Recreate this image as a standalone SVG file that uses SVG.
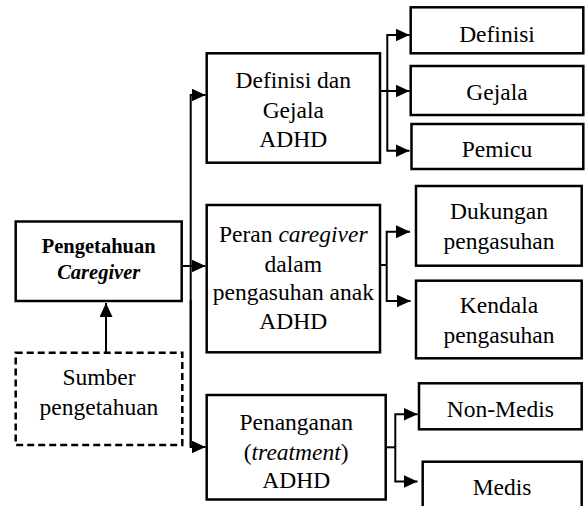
<svg xmlns="http://www.w3.org/2000/svg" width="586" height="506" viewBox="0 0 586 506">
<defs>
<style>
.box{fill:#fff;stroke:#000;stroke-width:2.5}
.dash{fill:#fff;stroke:#000;stroke-width:2.5;stroke-dasharray:7,4}
.t{font-family:'Liberation Serif','Times New Roman',serif;font-size:23.5px;fill:#000;text-anchor:middle}
.b{font-family:'Liberation Serif','Times New Roman',serif;font-size:20.5px;font-weight:bold;fill:#000;text-anchor:middle}
.c{fill:none;stroke:#000;stroke-width:2}
</style>
<marker id="ah" markerUnits="userSpaceOnUse" markerWidth="15" markerHeight="14" refX="14" refY="6.5" orient="auto">
<path d="M0,0 L14,6.5 L0,13 z" fill="#000"/>
</marker>
</defs>
<rect width="586" height="506" fill="#fff"/>

<g id="connectors">
<path class="c" d="M190.7,447 V95 H205.5" marker-end="url(#ah)"/>
<path class="c" d="M190.7,300 V447 H205.5" marker-end="url(#ah)"/>
<path class="c" d="M181.7,266 H205.5" marker-end="url(#ah)"/>
<path class="c" d="M106,352 V303" marker-end="url(#ah)"/>
<path class="c" d="M380,91 H387.3"/>
<path class="c" d="M387.3,91 V35 H409.5" marker-end="url(#ah)"/>
<path class="c" d="M387.3,91 H409.5" marker-end="url(#ah)"/>
<path class="c" d="M387.3,91 V150.7 H409.5" marker-end="url(#ah)"/>
<path class="c" d="M380,265 H386.7"/>
<path class="c" d="M386.7,265 V231.7 H410" marker-end="url(#ah)"/>
<path class="c" d="M386.7,265 V301 H410.5" marker-end="url(#ah)"/>
<path class="c" d="M386.7,447.3 H395.3"/>
<path class="c" d="M395.3,447.3 V414.3 H417.5" marker-end="url(#ah)"/>
<path class="c" d="M395.3,447.3 V481.5 H417.5" marker-end="url(#ah)"/>
</g>

<g id="pengetahuan">
<rect class="box" x="15.7" y="221.5" width="166" height="79.5"/>
<text class="b" x="98.7" y="253.3">Pengetahuan</text>
<text class="b" x="98.7" y="279" font-style="italic">Caregiver</text>
</g>

<g id="sumber">
<rect class="dash" x="15.7" y="352.7" width="166.6" height="92.3"/>
<text class="t" x="99" y="385">Sumber</text>
<text class="t" x="99" y="415">pengetahuan</text>
</g>

<g id="definisi-gejala">
<rect class="box" x="206.7" y="53.3" width="173.3" height="109.4"/>
<text class="t" x="293.3" y="88">Definisi dan</text>
<text class="t" x="293.3" y="117.5">Gejala</text>
<text class="t" x="293.3" y="147">ADHD</text>
</g>

<g id="peran">
<rect class="box" x="206.7" y="205" width="173.3" height="147.3"/>
<text class="t" x="293.3" y="242">Peran <tspan font-style="italic">caregiver</tspan></text>
<text class="t" x="293.3" y="271.5">dalam</text>
<text class="t" x="293.3" y="300">pengasuhan anak</text>
<text class="t" x="293.3" y="328.5">ADHD</text>
</g>

<g id="penanganan">
<rect class="box" x="206.7" y="395" width="179" height="104.5"/>
<text class="t" x="296.2" y="430">Penanganan</text>
<text class="t" x="296.2" y="459.5">(<tspan font-style="italic">treatment</tspan>)</text>
<text class="t" x="296.2" y="488">ADHD</text>
</g>

<g id="definisi">
<rect class="box" x="410.7" y="7.3" width="172.6" height="46"/>
<text class="t" x="497" y="42.3">Definisi</text>
</g>

<g id="gejala">
<rect class="box" x="410.7" y="66" width="172.6" height="49"/>
<text class="t" x="497" y="100">Gejala</text>
</g>

<g id="pemicu">
<rect class="box" x="411.5" y="124" width="171.8" height="45"/>
<text class="t" x="497" y="156.7">Pemicu</text>
</g>

<g id="dukungan">
<rect class="box" x="416" y="186" width="165.7" height="79.7"/>
<text class="t" x="499" y="219">Dukungan</text>
<text class="t" x="499" y="248.5">pengasuhan</text>
</g>

<g id="kendala">
<rect class="box" x="416" y="280.7" width="165.7" height="77.6"/>
<text class="t" x="499" y="313.3">Kendala</text>
<text class="t" x="499" y="342.7">pengasuhan</text>
</g>

<g id="non-medis">
<rect class="box" x="419" y="383.3" width="162.7" height="46"/>
<text class="t" x="500.3" y="416.7">Non-Medis</text>
</g>

<g id="medis">
<rect class="box" x="422.7" y="461.7" width="159" height="60"/>
<text class="t" x="502" y="495">Medis</text>
</g>
</svg>
